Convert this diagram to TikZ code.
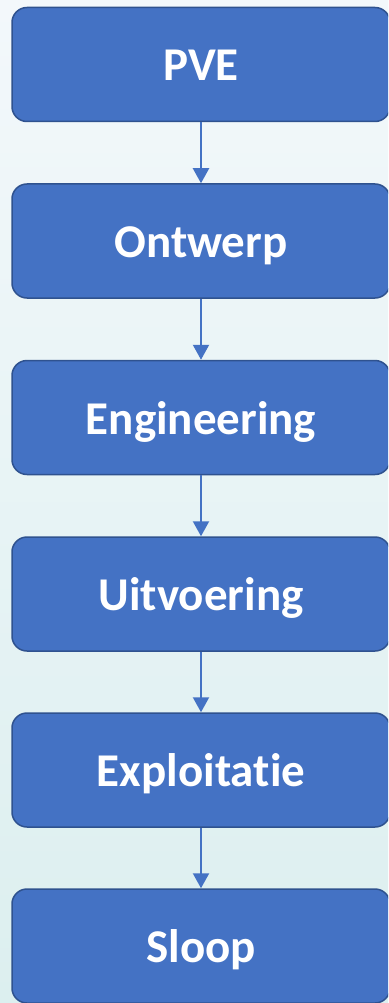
\documentclass[tikz,border=0pt]{standalone}
\usepackage{fontspec}
\setmainfont[Ligatures=NoCommon]{Carlito}
\usetikzlibrary{arrows.meta}
\definecolor{boxfill}{HTML}{4472C4}
\definecolor{boxline}{HTML}{2F528F}
\definecolor{bgtop}{HTML}{F3F8FB}
\definecolor{bgbot}{HTML}{DCEFEF}
\tikzset{
  stage/.style={draw=boxline, line width=1.5pt, fill=boxfill, rounded corners=15pt,
    minimum width=378pt, minimum height=114pt, inner sep=0pt,
    text height=33pt, text depth=0pt,
    text=white, font=\fontsize{47}{52}\selectfont\bfseries},
  flow/.style={draw=boxfill, line width=2.2pt, -{Triangle[width=16pt,length=15pt]}}
}
\begin{document}
\begin{tikzpicture}[x=1pt,y=-1pt]
\useasboundingbox (0,0) rectangle (388,1003);
\shade[top color=bgtop, bottom color=bgbot] (0,0) rectangle (388,1003);
\begin{scope}
\clip (0,0) rectangle (388,1003);
\node[stage] (a) at (201,64.5) {PVE};
\node[stage] (b) at (201,241) {Ontwerp};
\node[stage] (c) at (201,417.5) {Engineering};
\node[stage] (d) at (201,594) {Uitvoering};
\node[stage] (e) at (201,770) {Exploitatie};
\node[stage] (f) at (201,946) {Sloop};
\draw[flow] (a) -- (b);
\draw[flow] (b) -- (c);
\draw[flow] (c) -- (d);
\draw[flow] (d) -- (e);
\draw[flow] (e) -- (f);
\end{scope}
\end{tikzpicture}
\end{document}
